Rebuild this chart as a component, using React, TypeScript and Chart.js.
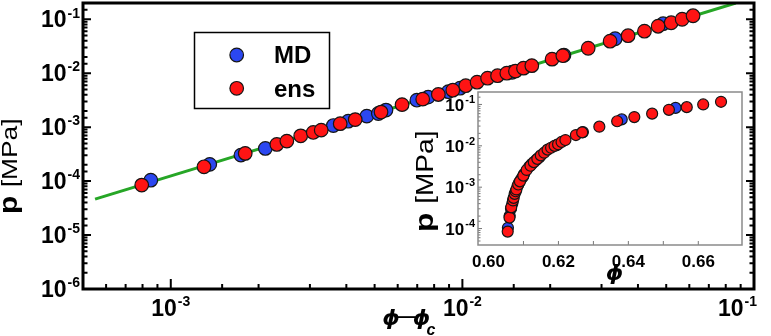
import React, { useEffect, useRef } from 'react';
import { Chart, registerables } from 'chart.js';

Chart.register(...registerables);

// ---------- data ----------
// phi - phi_c values and pressures [MPa]
const MD_DPHI = [8.54e-4, 1.36e-3, 1.74e-3, 2.11e-3, 3.61e-3, 4.06e-3, 4.70e-3, 5.15e-3, 5.47e-3, 6.98e-3, 7.63e-3, 8.95e-3, 9.82e-3, 1.48e-2, 2.23e-2, 3.34e-2, 4.88e-2];
const MD_P = [1.04e-4, 2.04e-4, 3.03e-4, 4.03e-4, 1.07e-3, 1.29e-3, 1.60e-3, 1.79e-3, 2.07e-3, 3.16e-3, 3.60e-3, 4.54e-3, 5.27e-3, 1.04e-2, 2.15e-2, 4.35e-2, 8.26e-2];

const ENS_DPHI = [7.95e-4, 1.30e-3, 1.80e-3, 2.31e-3, 2.50e-3, 2.79e-3, 3.08e-3, 3.28e-3, 3.81e-3, 4.29e-3, 5.26e-3, 6.21e-3, 7.31e-3, 8.27e-3, 9.27e-3, 1.027e-2, 1.123e-2, 1.22e-2, 1.32e-2, 1.42e-2, 1.52e-2, 1.62e-2, 1.73e-2, 2.03e-2, 2.21e-2, 2.70e-2, 3.21e-2, 3.70e-2, 4.21e-2, 4.69e-2, 5.20e-2, 5.67e-2, 6.18e-2];
const ENS_P = [8.43e-5, 1.84e-4, 3.26e-4, 4.78e-4, 5.51e-4, 6.90e-4, 7.98e-4, 8.80e-4, 1.16e-3, 1.38e-3, 1.90e-3, 2.61e-3, 3.30e-3, 4.03e-3, 4.84e-3, 5.87e-3, 6.81e-3, 8.08e-3, 8.99e-3, 1.0e-2, 1.09e-2, 1.24e-2, 1.38e-2, 1.82e-2, 2.11e-2, 2.90e-2, 3.92e-2, 4.95e-2, 6.00e-2, 7.42e-2, 8.61e-2, 0.100, 0.116];

// power-law fit line end points
const FIT_DPHI = [5.5e-4, 0.0866];
const FIT_P = [4.64e-5, 0.2];

// jamming point used in the inset (phi = phi_c + (phi - phi_c))
const PHI_C = 0.6047;

const SERIES_LABELS = ['MD', 'ens'];

// tick labels (base + superscript exponent)
const MAIN_X_TICKS = [1e-3, 1e-2, 1e-1];
const MAIN_X_BASES = ['10', '10', '10'];
const MAIN_X_EXPS = ['-3', '-2', '-1'];
const MAIN_Y_TICKS = [1e-6, 1e-5, 1e-4, 1e-3, 1e-2, 1e-1];
const MAIN_Y_BASES = ['10', '10', '10', '10', '10', '10'];
const MAIN_Y_EXPS = ['-6', '-5', '-4', '-3', '-2', '-1'];
const INSET_X_TICKS = [0.60, 0.62, 0.64, 0.66];
const INSET_X_LABELS = ['0.60', '0.62', '0.64', '0.66'];
const INSET_Y_TICKS = [1e-4, 1e-3, 1e-2, 1e-1];
const INSET_Y_BASES = ['10', '10', '10', '10'];
const INSET_Y_EXPS = ['-4', '-3', '-2', '-1'];

const Y_TITLE_SYMBOL = 'p';
const Y_TITLE_UNIT = '[MPa]';
const X_TITLE_PARTS = ['ϕ', '—', 'ϕ', 'c'];
const INSET_X_TITLE = 'ϕ';

// ---------- styles ----------
const FONT = "'Liberation Sans', Arial, Helvetica, sans-serif";
const GREEK = "'DejaVu Sans', 'Liberation Sans', sans-serif";
const BLUE = '#2b47f0';
const RED = '#ff1414';
const GREEN = '#26a626';
const EDGE = '#151515';

function isDecade(v: number) {
  const l = Math.log10(v);
  return Math.abs(l - Math.round(l)) < 1e-6;
}

function frameTicksPlugin(o: any) {
  return {
    id: 'frameTicks',
    beforeDatasetsDraw(chart: any) {
      if (!o.fill) return;
      const { ctx, chartArea: a } = chart;
      ctx.save();
      ctx.fillStyle = o.fill;
      ctx.fillRect(a.left, a.top, a.right - a.left, a.bottom - a.top);
      ctx.restore();
    },
    afterDraw(chart: any) {
      const { ctx, chartArea: a, scales } = chart;
      const xs = scales.x;
      const ys = scales.y;
      ctx.save();
      ctx.strokeStyle = o.color;
      for (const t of xs.ticks) {
        const px = xs.getPixelForValue(t.value);
        if (px < a.left + 2 || px > a.right - 2) continue;
        const major = o.xMajor(t.value);
        ctx.lineWidth = major ? o.majorW : o.minorW;
        const len = major ? o.xMajorLen : o.xMinorLen;
        ctx.beginPath();
        ctx.moveTo(px, a.bottom);
        ctx.lineTo(px, a.bottom - len);
        ctx.stroke();
      }
      for (const t of ys.ticks) {
        const py = ys.getPixelForValue(t.value);
        if (py < a.top + 2 || py > a.bottom - 2) continue;
        const major = o.yMajor(t.value);
        ctx.lineWidth = major ? o.majorW : o.minorW;
        const len = major ? o.yMajorLen : o.yMinorLen;
        ctx.beginPath();
        ctx.moveTo(a.left, py);
        ctx.lineTo(a.left + len, py);
        if (o.mirrorY) {
          ctx.moveTo(a.right, py);
          ctx.lineTo(a.right - len, py);
        }
        ctx.stroke();
      }
      ctx.lineWidth = o.frameW;
      ctx.strokeStyle = o.frameColor;
      ctx.strokeRect(a.left, a.top, a.right - a.left, a.bottom - a.top);
      ctx.restore();
    },
  };
}

// tick labels with real superscripts, positioned by the chart's scales
function tickLabelsPlugin(o: any) {
  return {
    id: 'tickLabels',
    afterDraw(chart: any) {
      const { ctx, scales, chartArea: a } = chart;
      ctx.save();
      ctx.fillStyle = '#000';
      ctx.textBaseline = 'alphabetic';
      ctx.textAlign = 'left';
      const bf = `bold ${o.baseSize}px ${FONT}`;
      const ef = `bold ${o.expSize}px ${FONT}`;
      const capB = o.baseSize * 0.716;
      // x axis
      o.x.values.forEach((v: number, i: number) => {
        const px = scales.x.getPixelForValue(v);
        const base = o.x.bases[i];
        const exp = o.x.exps ? o.x.exps[i] : '';
        ctx.font = o.x.font || bf;
        const wb = ctx.measureText(base).width;
        ctx.font = ef;
        const we = exp ? ctx.measureText(exp).width + o.gap : 0;
        const total = wb + we;
        let left = px - total / 2;
        if (left + total > chart.width - 1) left = px + o.x.rightShift - total;
        const baseY = a.bottom + o.x.baseline;
        ctx.font = o.x.font || bf;
        ctx.fillText(base, left, baseY);
        if (exp) {
          ctx.font = ef;
          ctx.fillText(exp, left + wb + o.gap, baseY - capB + o.expRise);
        }
      });
      // y axis
      o.y.values.forEach((v: number, i: number) => {
        const py = scales.y.getPixelForValue(v);
        const base = o.y.bases[i];
        const exp = o.y.exps[i];
        ctx.font = ef;
        const we = ctx.measureText(exp).width;
        ctx.font = bf;
        const wb = ctx.measureText(base).width;
        const right = a.left - o.y.pad;
        const baseY = py + capB / 2;
        ctx.fillText(base, right - we - o.gap - wb, baseY);
        ctx.font = ef;
        ctx.fillText(exp, right - we, baseY - capB + o.expRise);
      });
      ctx.restore();
    },
  };
}

function drawRotatedTitle(ctx: CanvasRenderingContext2D, x: number, yStart: number, pSize: number, uSize: number, stretch: number) {
  ctx.save();
  ctx.translate(x, yStart);
  ctx.rotate(-Math.PI / 2);
  ctx.scale(stretch, 1);
  ctx.fillStyle = '#000';
  ctx.textBaseline = 'alphabetic';
  ctx.textAlign = 'left';
  ctx.font = `bold ${pSize}px ${FONT}`;
  ctx.fillText(Y_TITLE_SYMBOL, 0, 0);
  const w = ctx.measureText(Y_TITLE_SYMBOL + ' ').width;
  ctx.font = `${uSize}px ${FONT}`;
  ctx.fillText(Y_TITLE_UNIT, w, 0);
  ctx.restore();
}

const mainTitlesPlugin = {
  id: 'mainTitles',
  afterDraw(chart: any) {
    const ctx: CanvasRenderingContext2D = chart.ctx;
    drawRotatedTitle(ctx, 17, 214, 25, 22, 1.2);
    ctx.save();
    ctx.fillStyle = '#000';
    ctx.textAlign = 'center';
    ctx.textBaseline = 'alphabetic';
    ctx.font = `italic bold 22px ${GREEK}`;
    ctx.fillText(X_TITLE_PARTS[0], 391, 325);
    ctx.font = `bold 18px ${FONT}`;
    ctx.fillText(X_TITLE_PARTS[1], 406.5, 322);
    ctx.font = `italic bold 22px ${GREEK}`;
    ctx.fillText(X_TITLE_PARTS[2], 421.5, 325);
    ctx.font = `italic bold 16px ${FONT}`;
    ctx.fillText(X_TITLE_PARTS[3], 431, 335);
    ctx.restore();

    // legend inside the plot
    ctx.save();
    ctx.lineWidth = 1.5;
    ctx.strokeStyle = '#000';
    ctx.strokeRect(194.5, 32.5, 135, 76);
    const rows = [
      { cy: 55, base: 63 },
      { cy: 88.3, base: 97 },
    ];
    SERIES_LABELS.forEach((lab, i) => {
      const ds = chart.data.datasets.find((d: any) => d.label === lab);
      ctx.beginPath();
      ctx.arc(236.7, rows[i].cy, 6.8, 0, Math.PI * 2);
      ctx.fillStyle = ds.pointBackgroundColor;
      ctx.fill();
      ctx.lineWidth = 1.2;
      ctx.strokeStyle = EDGE;
      ctx.stroke();
      ctx.fillStyle = '#000';
      ctx.font = `bold 24px ${FONT}`;
      ctx.textAlign = 'left';
      ctx.textBaseline = 'alphabetic';
      ctx.fillText(lab, 274, rows[i].base);
    });
    ctx.restore();
  },
};

const insetTitlesPlugin = {
  id: 'insetTitles',
  afterDraw(chart: any) {
    const ctx: CanvasRenderingContext2D = chart.ctx;
    drawRotatedTitle(ctx, 28, 147, 26, 23, 1.22);
    ctx.save();
    ctx.fillStyle = '#000';
    ctx.textAlign = 'center';
    ctx.textBaseline = 'alphabetic';
    ctx.font = `italic bold 22px ${GREEK}`;
    ctx.fillText(INSET_X_TITLE, 209.5, 195);
    ctx.restore();
  },
};

function seriesDatasets(xOffset: number, radius: number) {
  return [
    {
      label: SERIES_LABELS[0],
      data: MD_DPHI.map((x, i) => ({ x: x + xOffset, y: MD_P[i] })),
      pointBackgroundColor: BLUE,
      pointBorderColor: EDGE,
      pointBorderWidth: 1.2,
      pointRadius: radius,
      showLine: false,
      order: 2,
    },
    {
      label: SERIES_LABELS[1],
      data: ENS_DPHI.map((x, i) => ({ x: x + xOffset, y: ENS_P[i] })),
      pointBackgroundColor: RED,
      pointBorderColor: EDGE,
      pointBorderWidth: 1.2,
      pointRadius: radius,
      showLine: false,
      order: 1,
    },
  ];
}

const hiddenTicks = { display: false, autoSkip: false };

function mainConfig(): any {
  return {
    type: 'scatter',
    data: {
      datasets: [
        ...seriesDatasets(0, 6.8),
        {
          label: 'fit',
          data: FIT_DPHI.map((x, i) => ({ x, y: FIT_P[i] })),
          showLine: true,
          borderColor: GREEN,
          borderWidth: 3,
          pointRadius: 0,
          order: 3,
        },
      ],
    },
    options: {
      animation: false,
      responsive: false,
      devicePixelRatio: 1,
      events: [],
      layout: { autoPadding: false, padding: { top: 3, right: 17, left: 0, bottom: 0 } },
      plugins: { legend: { display: false }, tooltip: { enabled: false }, title: { display: false } },
      scales: {
        x: {
          type: 'logarithmic',
          min: 5e-4,
          max: 0.1,
          grid: { display: false, drawTicks: false },
          border: { display: false },
          ticks: hiddenTicks,
          afterFit: (s: any) => {
            s.height = 47;
            s.paddingLeft = 0;
            s.paddingRight = 0;
          },
        },
        y: {
          type: 'logarithmic',
          min: 1e-6,
          max: 0.2,
          grid: { display: false, drawTicks: false },
          border: { display: false },
          ticks: hiddenTicks,
          afterFit: (s: any) => {
            s.width = 83;
            s.paddingTop = 0;
            s.paddingBottom = 0;
          },
        },
      },
    },
    plugins: [
      frameTicksPlugin({
        color: '#000',
        frameColor: '#000',
        frameW: 3,
        majorW: 2,
        minorW: 2,
        xMajor: isDecade,
        yMajor: isDecade,
        xMajorLen: 10,
        xMinorLen: 5,
        yMajorLen: 8,
        yMinorLen: 4.5,
        mirrorY: true,
      }),
      tickLabelsPlugin({
        baseSize: 23,
        expSize: 14,
        gap: 1,
        expRise: 6.5,
        x: { values: MAIN_X_TICKS, bases: MAIN_X_BASES, exps: MAIN_X_EXPS, baseline: 27, rightShift: 3 },
        y: { values: MAIN_Y_TICKS, bases: MAIN_Y_BASES, exps: MAIN_Y_EXPS, pad: 3 },
      }),
      mainTitlesPlugin,
    ],
  };
}

function insetConfig(): any {
  return {
    type: 'scatter',
    data: { datasets: seriesDatasets(PHI_C, 5.5) },
    options: {
      animation: false,
      responsive: false,
      devicePixelRatio: 1,
      events: [],
      layout: { autoPadding: false, padding: { top: 7, right: 13, left: 0, bottom: 0 } },
      plugins: { legend: { display: false }, tooltip: { enabled: false }, title: { display: false } },
      scales: {
        x: {
          type: 'linear',
          min: 0.597,
          max: 0.6725,
          grid: { display: false, drawTicks: false },
          border: { display: false },
          ticks: { display: false, stepSize: 0.01, autoSkip: false },
          afterFit: (s: any) => {
            s.height = 45;
            s.paddingLeft = 0;
            s.paddingRight = 0;
          },
        },
        y: {
          type: 'logarithmic',
          min: 4e-5,
          max: 0.2,
          grid: { display: false, drawTicks: false },
          border: { display: false },
          ticks: hiddenTicks,
          afterFit: (s: any) => {
            s.width = 73;
            s.paddingTop = 0;
            s.paddingBottom = 0;
          },
        },
      },
    },
    plugins: [
      frameTicksPlugin({
        fill: '#ffffff',
        color: '#777',
        frameColor: '#8a8a8a',
        frameW: 1.5,
        majorW: 1,
        minorW: 1,
        xMajor: () => false,
        yMajor: isDecade,
        xMajorLen: 4,
        xMinorLen: 4,
        yMajorLen: 4,
        yMinorLen: 2.5,
        mirrorY: false,
      }),
      tickLabelsPlugin({
        baseSize: 17,
        expSize: 11,
        gap: 1,
        expRise: 5,
        x: { values: INSET_X_TICKS, bases: INSET_X_LABELS, exps: null, baseline: 22, rightShift: 0, font: `bold 17px ${FONT}` },
        y: { values: INSET_Y_TICKS, bases: INSET_Y_BASES, exps: INSET_Y_EXPS, pad: 3 },
      }),
      insetTitlesPlugin,
    ],
  };
}

export default function App() {
  const mainRef = useRef<HTMLCanvasElement>(null);
  const insetRef = useRef<HTMLCanvasElement>(null);

  useEffect(() => {
    const main = new Chart(mainRef.current as HTMLCanvasElement, mainConfig());
    const inset = new Chart(insetRef.current as HTMLCanvasElement, insetConfig());
    return () => {
      main.destroy();
      inset.destroy();
    };
  }, []);

  return (
    <div style={{ position: 'fixed', left: 0, top: 0, width: 771, height: 336, background: '#fff' }}>
      <canvas ref={mainRef} width={771} height={336} style={{ position: 'absolute', left: 0, top: 0, width: 771, height: 336 }} />
      <canvas ref={insetRef} width={350} height={205} style={{ position: 'absolute', left: 405, top: 85, width: 350, height: 205 }} />
    </div>
  );
}
